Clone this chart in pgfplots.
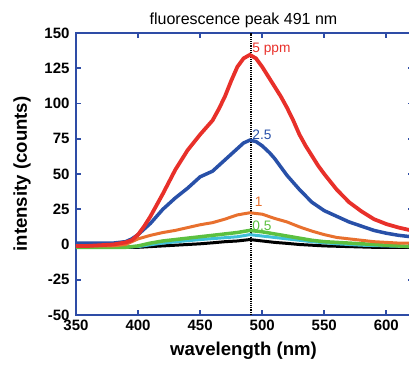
\documentclass[border=0pt]{standalone}
\usepackage{fontspec}
\setmainfont{Liberation Sans}
\usepackage{pgfplots}
\pgfplotsset{compat=1.18}
\definecolor{axblue}{HTML}{2E4CA6}
\definecolor{cred}{HTML}{E8302A}
\definecolor{cblue}{HTML}{2850A8}
\definecolor{corange}{HTML}{E8702E}
\definecolor{cgreen}{HTML}{5CC040}
\definecolor{ccyan}{HTML}{40C0D8}
\begin{document}
\begin{tikzpicture}
\begin{axis}[name=ax, scale only axis, width=337pt, height=282pt,
  xmin=350, xmax=621.5, ymin=-50, ymax=150,
  xtick={350,400,450,500,550,600}, xticklabels={350,400,450,500,550,600},
  ytick={-50,-25,0,25,50,75,100,125,150}, yticklabels={-50,-25,0,25,50,75,100,125,150},
  axis line style={draw=axblue, line width=2pt},
  tick style={draw=axblue, line width=1.8pt},
  tick align=inside, major tick length=5pt,
  ticklabel style={font=\fontsize{15}{16}\selectfont\bfseries, text=black},
  xticklabel style={yshift=-1pt},
  yticklabel style={xshift=-3pt},
  every axis x label/.style={at={(axis description cs:0.5,0)}, yshift=-36pt, anchor=center, xshift=-1pt},
  every axis y label/.style={at={(axis description cs:0,0.5)}, xshift=-54pt, rotate=90, anchor=center},
  every axis title/.style={at={(axis description cs:0.5,1)}, yshift=13pt, anchor=center, xshift=-1pt},
  xlabel={wavelength (nm)}, ylabel={intensity (counts)},
  label style={font=\fontsize{18.6}{20}\selectfont\bfseries},
  title={fluorescence peak 491 nm}, title style={font=\fontsize{16}{18}\selectfont},
]
\addplot[black, densely dotted, line width=1.2pt] coordinates {(491,-50) (491,150)};
% black (blank)
\addplot[black, line width=3pt] coordinates {
(350,-2) (380,-2) (400,-2) (420,-1) (440,0) (450,0.5) (460,1.2) (470,2) (480,2.5) (490,3.5) (495,3) (500,2.5) (510,1.5) (520,0.8) (530,0) (550,-1) (570,-1.5) (590,-2) (620,-2)};
% cyan
\addplot[ccyan, line width=3pt] coordinates {
(350,-2) (380,-2) (400,-1.5) (410,-0.2) (420,1) (435,2.3) (450,3.5) (465,4.5) (480,5.5) (490,7) (500,6) (510,5) (520,4) (530,3) (540,2) (560,0.5) (580,-0.5) (600,-1) (620,-1.5)};
% green 0.5
\addplot[cgreen, line width=3.5pt] coordinates {
(350,-2) (370,-2) (390,-2) (400,-1) (410,1) (420,2.5) (430,3.5) (440,4.5) (450,5.5) (460,6.5) (470,7.5) (480,8.5) (490,10) (500,9) (510,7.5) (520,6) (530,4.5) (540,3) (550,2) (560,1.5) (570,1) (580,0.5) (590,0) (600,-0.5) (610,-1) (620,-1.5)};
% orange 1
\addplot[corange, line width=3pt] coordinates {
(350,-1) (380,-1) (390,0) (395,2) (400,4) (410,6.5) (420,8.5) (430,10) (440,12) (450,14) (460,15.5) (470,18) (480,21) (490,22.5) (500,21.5) (510,18.5) (520,16) (530,12.5) (540,9.5) (550,7) (560,5) (570,4) (580,3) (590,2) (600,1.5) (610,1) (620,1)};
% blue 2.5
\addplot[cblue, line width=3.5pt] coordinates {
(350,1) (370,1) (380,1) (390,2) (395,4) (400,7) (410,15) (420,25) (430,33) (440,40) (450,48) (460,52) (465,56) (470,60) (480,68) (485,72) (490,74) (495,73) (500,70) (506,65) (510,61) (520,49) (530,39) (540,30) (550,24) (560,20) (570,16) (580,13) (590,10) (600,8) (610,6.5) (620,5.5)};
% red 5 ppm
\addplot[cred, line width=3.8pt] coordinates {
(350,-1) (360,-1) (370,-0.5) (380,0) (390,1.5) (395,3) (400,7) (405,13) (410,20) (420,36) (430,53) (440,67) (450,78) (460,88) (465,96) (470,105) (475,116) (480,126) (485,132) (490,134.5) (495,132) (500,126) (505,119) (510,112) (515,105) (520,97) (525,88) (530,78) (535,70) (540,63) (545,56) (550,50) (560,39) (570,30) (580,23.5) (590,18) (600,14.5) (610,12) (620,10)};
\node[anchor=west, text=cred, font=\fontsize{13.7}{14}\selectfont, inner sep=0pt] at (axis cs:492,138.5) {5 ppm};
\node[anchor=west, text=cblue, font=\fontsize{13.7}{14}\selectfont, inner sep=0pt] at (axis cs:492,78) {2.5};
\node[anchor=west, text=corange, font=\fontsize{13.7}{14}\selectfont, inner sep=0pt] at (axis cs:494,30) {1};
\node[anchor=west, text=cgreen, font=\fontsize{13.7}{14}\selectfont, inner sep=0pt] at (axis cs:492,13) {0.5};
\end{axis}
\pgfresetboundingbox
\path ([shift={(-76pt,-49pt)}]ax.south west) rectangle ([shift={(333pt,315pt)}]ax.south west);
\end{tikzpicture}
\end{document}
